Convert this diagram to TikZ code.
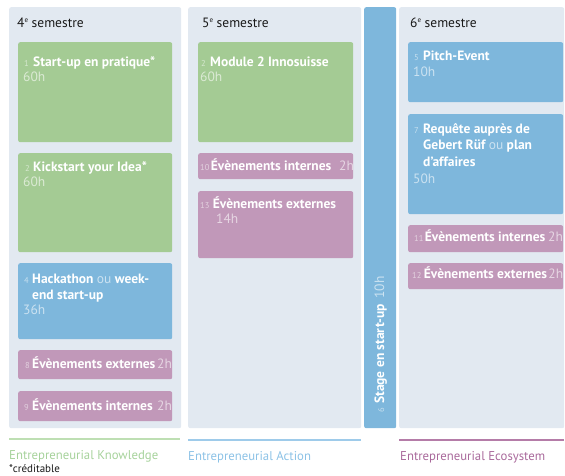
\documentclass[tikz,border=0pt]{standalone}
\usepackage{fontspec}
\setmainfont{PT Sans}
\usetikzlibrary{positioning, calc}

\definecolor{colbg}{HTML}{E2E9F1}
\definecolor{knowgreen}{HTML}{A4CB94}
\definecolor{actblue}{HTML}{7EB7DC}
\definecolor{ecopink}{HTML}{C198B9}
\definecolor{knowline}{HTML}{BEDFB3}
\definecolor{knowtext}{HTML}{A6D29B}
\definecolor{actline}{HTML}{9ECBEA}
\definecolor{acttext}{HTML}{8CC2E6}
\definecolor{ecoline}{HTML}{B57CA8}
\definecolor{ecotext}{HTML}{A9699B}

\tikzset{
  column/.style={fill=colbg, rounded corners=2pt, anchor=north west, inner sep=0pt},
  card/.style={fill=#1, rounded corners=2pt, anchor=north west, inner sep=0pt, minimum width=154pt},
  head/.style={anchor=base west, inner sep=0pt, font=\fontsize{13.5}{16}\selectfont, text=black!90},
  nr/.style={anchor=base west, inner sep=0pt, font=\fontsize{8.5}{10}\selectfont, text=white!55!#1},
  ttl/.style={anchor=base west, inner sep=0pt, align=left, font=\bfseries\fontsize{13.5}{16.5}\selectfont, text=white},
  hrs/.style={anchor=base west, inner sep=0pt, font=\fontsize{13.5}{16}\selectfont, text=white!60!#1},
  rule/.style={line width=2pt, draw=#1},
  area/.style={anchor=base west, inner sep=0pt, font=\fontsize{12.75}{15}\selectfont, text=#1}
}
\newcommand{\ou}[1]{\textcolor{white!60!#1}{\mdseries ou}}
\newcommand{\sem}[1]{#1\raisebox{4.5pt}{\fontsize{7}{8}\selectfont e}\ semestre}

\begin{document}
\begin{tikzpicture}[x=1pt, y=-1pt]
  \useasboundingbox (0,0) rectangle (565,475);

  % columns
  \node[column, minimum width=172pt, minimum height=421pt] (c4) at (9,7) {};
  \node[column, minimum width=173pt, minimum height=421pt] (c5) at (188,7) {};
  \node[card=actblue, minimum width=32pt, minimum height=421pt] (stage) at (364,7) {};
  \node[column, minimum width=165pt, minimum height=421pt] (c6) at (399,7) {};

  % 4e semestre
  \node[head] (h4) at (17,27) {\sem{4}};

  \node[card=knowgreen, minimum height=100pt] (b1) at (18,42) {};
  \node[nr=knowgreen] (n1) at (24,66) {1};
  \node[ttl, right=4pt of n1.base east, anchor=base west] (t1) {Start-up en pratique*};
  \node[hrs=knowgreen] (r1) at (23,81) {60h};

  \node[card=knowgreen, minimum height=99pt] (b2) at (18,153) {};
  \node[nr=knowgreen] (n2) at (25,171) {2};
  \node[ttl, right=3pt of n2.base east, anchor=base west] (t2) {Kickstart your Idea*};
  \node[hrs=knowgreen] (r2) at (23,186) {60h};

  \node[card=actblue, minimum height=76pt] (b4) at (18,263) {};
  \node[nr=actblue] (n4) at (24,283) {4};
  \node[ttl, right=3pt of n4.base east, anchor=base west, yshift=-16.5pt] (t4) {Hackathon \ou{actblue} week-\\end start-up};
  \node[hrs=actblue] (r4) at (23,314) {36h};

  \node[card=ecopink, minimum height=29pt] (b8) at (18,350) {};
  \node[nr=ecopink] (n8) at (25,368) {8};
  \node[ttl, right=2pt of n8.base east, anchor=base west] (t8) {Évènements externes};
  \node[hrs=ecopink] (r8) at (157,368) {2h};

  \node[card=ecopink, minimum height=30pt] (b9) at (18,391) {};
  \node[nr=ecopink] (n9) at (24,410) {9};
  \node[ttl, right=3pt of n9.base east, anchor=base west] (t9) {Évènements internes};
  \node[hrs=ecopink] (r9) at (157,410) {2h};

  % 5e semestre
  \node[head] (h5) at (202,27) {\sem{5}};

  \node[card=knowgreen, minimum width=155pt, minimum height=100pt] (b20) at (198,42) {};
  \node[nr=knowgreen] (n20) at (201,66) {2};
  \node[ttl, right=4pt of n20.base east, anchor=base west] (t20) {Module 2 Innosuisse};
  \node[hrs=knowgreen] (r20) at (200,81) {60h};

  \node[card=ecopink, minimum width=155pt, minimum height=26pt] (b10) at (198,153) {};
  \node[nr=ecopink] (n10) at (200,170) {10};
  \node[ttl, right=1pt of n10.base east, anchor=base west] (t10) {Évènements internes};
  \node[hrs=ecopink] (r10) at (339,170) {2h};

  \node[card=ecopink, minimum width=155pt, minimum height=67pt] (b13) at (198,191) {};
  \node[nr=ecopink] (n13) at (200,208) {13};
  \node[ttl, right=3pt of n13.base east, anchor=base west] (t13) {Évènements externes};
  \node[hrs=ecopink] (r13) at (216,223) {14h};

  % stage
  \node[rotate=90, anchor=base west, inner sep=0pt, text=white] (t6) at (384,413)
    {{\fontsize{8.5}{10}\selectfont\color{white!55!actblue}6}\, {\bfseries\fontsize{13.5}{16}\selectfont Stage en start-up}\ \ {\fontsize{13.5}{16}\selectfont\color{white!60!actblue}10h}};

  % 6e semestre
  \node[head] (h6) at (410,27) {\sem{6}};

  \node[card=actblue, minimum width=155pt, minimum height=60pt] (b5) at (408,42) {};
  \node[nr=actblue] (n5) at (414,60) {5};
  \node[ttl, right=4pt of n5.base east, anchor=base west] (t5) {Pitch-Event};
  \node[hrs=actblue] (r5) at (413,76) {10h};

  \node[card=actblue, minimum width=155pt, minimum height=100pt] (b7) at (408,114) {};
  \node[nr=actblue] (n7) at (414,133) {7};
  \node[ttl, right=4pt of n7.base east, anchor=base west, yshift=-33pt] (t7) {Requête auprès de\\Gebert Rüf \ou{actblue} plan\\d’affaires};
  \node[hrs=actblue] (r7) at (413,183) {50h};

  \node[card=ecopink, minimum width=155pt, minimum height=27pt] (b11) at (408,225) {};
  \node[nr=ecopink] (n11) at (414,241) {11};
  \node[ttl, right=1pt of n11.base east, anchor=base west] (t11) {Évènements internes};
  \node[hrs=ecopink] (r11) at (548,241) {2h};

  \node[card=ecopink, minimum width=155pt, minimum height=26pt] (b12) at (408,263) {};
  \node[nr=ecopink] (n12) at (412,278) {12};
  \node[ttl, right=2pt of n12.base east, anchor=base west] (t12) {Évènements externes};
  \node[hrs=ecopink, right=1pt of t12.base east, anchor=base west] (r12) {2h};

  % areas
  \draw[rule=knowline] (9,439) -- ++(171,0);
  \draw[rule=actline] (188,440) -- ++(173,0);
  \draw[rule=ecoline] (399,440) -- ++(165,0);
  \node[area=knowtext] (a1) at (9,459) {Entrepreneurial Knowledge};
  \node[area=black!90, font=\fontsize{11}{13}\selectfont] (a0) at (9,472) {*créditable};
  \node[area=acttext] (a2) at (188,460) {Entrepreneurial Action};
  \node[area=ecotext] (a3) at (400,460) {Entrepreneurial Ecosystem};
\end{tikzpicture}
\end{document}
